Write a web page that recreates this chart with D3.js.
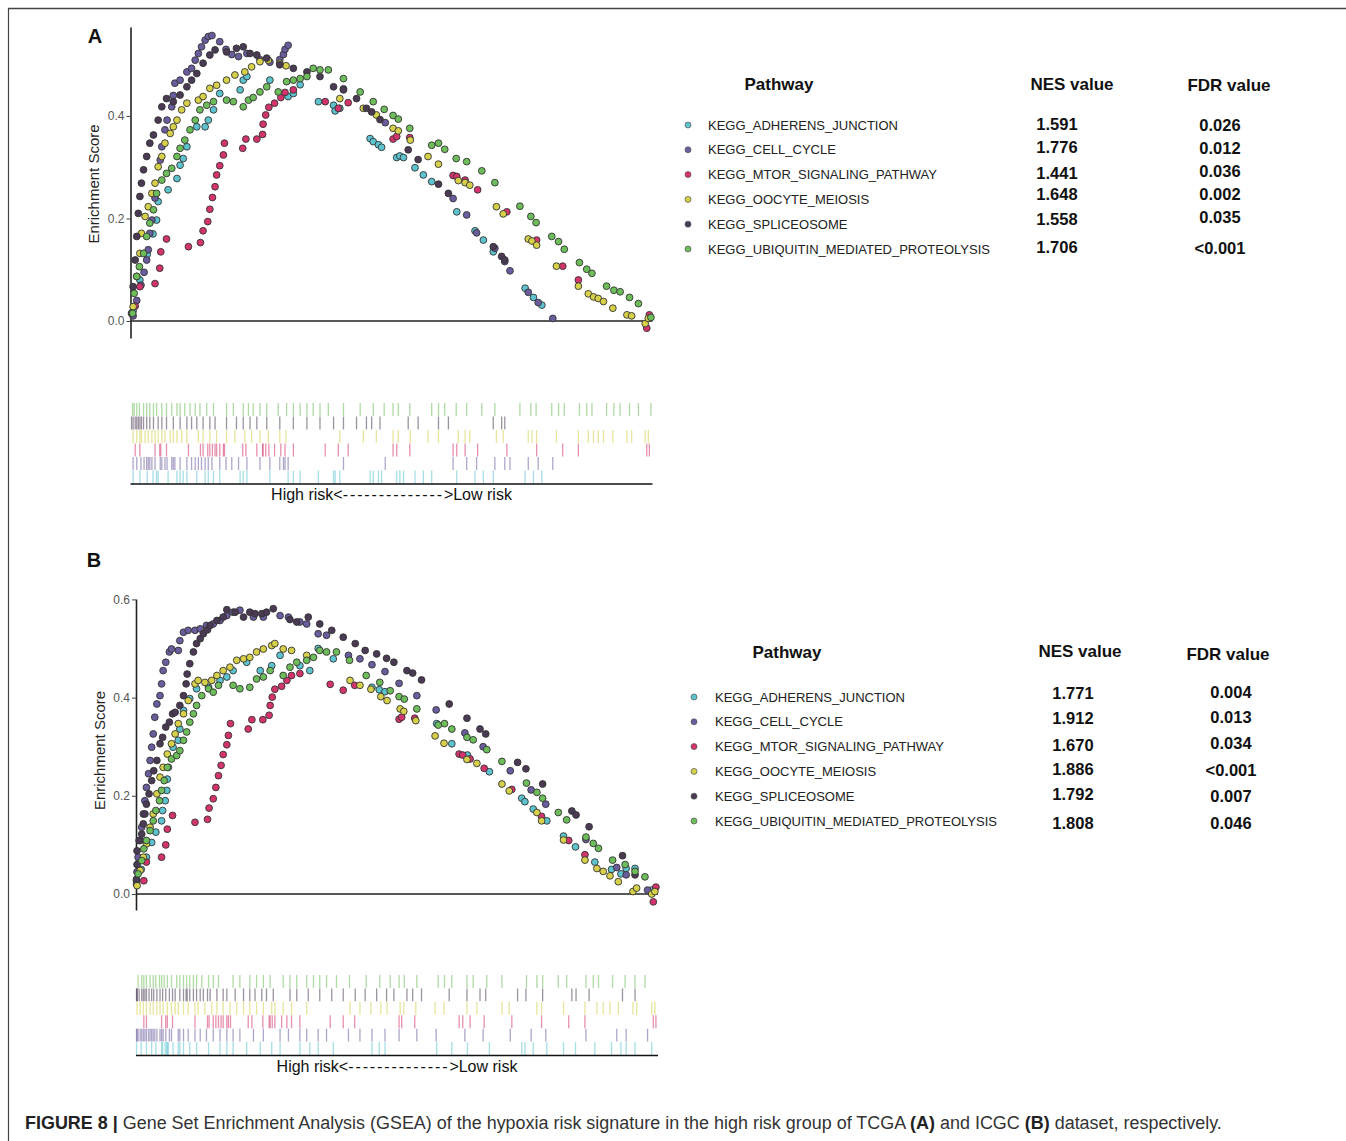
<!DOCTYPE html>
<html><head><meta charset="utf-8">
<script src="https://cdn.jsdelivr.net/npm/d3@7"></script>
<style>body{margin:0;background:#fff}svg{display:block}</style>
</head><body>
<svg id="c" width="1346" height="1141"></svg>
<script>
// ---------------- DATA ----------------
const pathways = ["KEGG_ADHERENS_JUNCTION","KEGG_CELL_CYCLE","KEGG_MTOR_SIGNALING_PATHWAY","KEGG_OOCYTE_MEIOSIS","KEGG_SPLICEOSOME","KEGG_UBIQUITIN_MEDIATED_PROTEOLYSIS"];
const tableHeaders = ["Pathway","NES value","FDR value"];
const tcgaNES = ["1.591","1.776","1.441","1.648","1.558","1.706"];
const tcgaFDR = ["0.026","0.012","0.036","0.002","0.035","<0.001"];
const icgcNES = ["1.771","1.912","1.670","1.886","1.792","1.808"];
const icgcFDR = ["0.004","0.013","0.034","<0.001","0.007","0.046"];
const esTicksA = [0, 0.2, 0.4];
const esTicksB = [0, 0.2, 0.4, 0.6];

// TCGA (panel A): hit rank position (% of ranked list) and running enrichment score
const tcgaAdhRank = [0.5,1.8,3.2,4.3,5.0,5.3,7.2,8.9,9.5,10.1,10.8,12.7,14.3,14.9,15.9,17.1,21.0,21.6,22.3,26.7,30.2,31.2,32.5,36.0,38.9,39.2,40.1,45.9,46.5,47.5,48.1,51.0,51.6,52.3,54.5,56.1,57.7,62.5,66.0,67.6,69.5,75.6,77.2,78.8];
const tcgaAdhES   = [0.02,0.08,0.13,0.17,0.197,0.233,0.256,0.278,0.304,0.317,0.34,0.379,0.379,0.392,0.412,0.444,0.451,0.47,0.477,0.47,0.438,0.444,0.461,0.428,0.421,0.41,0.415,0.356,0.35,0.344,0.339,0.319,0.322,0.319,0.299,0.285,0.272,0.213,0.176,0.158,0.135,0.064,0.046,0.031];
const tcgaCellRank = [0.5,1.2,2.0,2.6,3.1,3.4,3.7,4.1,4.7,5.7,6.0,6.6,7.0,7.9,8.2,8.5,9.5,10.8,11.7,12.4,13.0,13.6,14.3,14.9,15.6,17.1,18.3,19.4,20.7,22.3,24.8,26.7,28.6,29.3,29.6,30.2,40.8,48.8,61.8,64.4,66.3,69.8,71.7,72.7,76.2,78.1,80.9];
const tcgaCellES   = [0.01,0.04,0.07,0.095,0.119,0.139,0.171,0.197,0.24,0.314,0.34,0.373,0.392,0.418,0.44,0.464,0.47,0.486,0.493,0.509,0.522,0.535,0.548,0.555,0.557,0.545,0.53,0.52,0.516,0.522,0.51,0.505,0.51,0.52,0.53,0.538,0.453,0.387,0.239,0.207,0.172,0.142,0.116,0.098,0.056,0.036,0.005];
const tcgaMtorRank = [0.9,1.8,4.7,5.6,5.8,6.9,11.1,13.4,13.9,14.8,15.2,15.7,16.2,16.5,17.1,17.8,18.0,21.5,22.1,24.2,25.3,25.4,25.9,26.5,27.6,28.8,29.6,31.2,37.3,39.8,41.7,50.3,51.0,53.5,61.8,62.5,64.1,66.5,72.1,77.8,82.8,85.8,98.9,99.4];
const tcgaMtorES   = [0.029,0.067,0.073,0.103,0.135,0.16,0.145,0.153,0.176,0.194,0.218,0.241,0.262,0.285,0.303,0.324,0.347,0.337,0.355,0.355,0.364,0.384,0.402,0.417,0.425,0.436,0.446,0.451,0.428,0.415,0.426,0.355,0.36,0.358,0.284,0.282,0.275,0.256,0.213,0.158,0.107,0.08,-0.014,0.012];
const tcgaOocRank = [0.5,1.2,1.8,2.1,2.8,3.4,4.1,4.7,5.3,6.0,6.6,7.6,8.2,8.9,9.8,10.8,13.0,13.9,15.2,16.5,18.4,20.0,21.9,23.2,24.8,26.4,28.6,29.8,40.1,44.6,47.1,50.3,51.3,53.6,57.0,59.0,62.8,64.1,65.0,70.1,71.4,76.2,76.9,77.8,81.6,85.8,87.7,88.7,89.6,90.6,92.4,95.1,96.0,98.6,99.2];
const tcgaOocES   = [0.028,0.087,0.132,0.171,0.204,0.223,0.249,0.269,0.301,0.321,0.347,0.366,0.379,0.392,0.412,0.425,0.431,0.438,0.454,0.46,0.47,0.48,0.486,0.496,0.506,0.509,0.503,0.498,0.434,0.415,0.402,0.376,0.371,0.353,0.321,0.306,0.274,0.27,0.265,0.223,0.209,0.16,0.156,0.148,0.107,0.068,0.053,0.047,0.044,0.038,0.025,0.012,0.01,-0.005,0.005];
const tcgaSplRank = [0.2,0.5,0.9,1.2,1.5,1.8,2.1,2.5,3.1,3.7,4.4,5.3,6.0,6.9,8.2,9.5,10.8,11.7,12.7,13.9,15.2,16.2,18.4,20.3,21.6,22.9,24.2,26.1,28.6,31.2,33.8,36.3,38.9,40.8,43.3,45.2,46.2,47.8,53.2,55.1,59.0,60.9,69.5,71.1,71.7];
const tcgaSplES   = [0.015,0.067,0.119,0.165,0.21,0.243,0.269,0.295,0.321,0.347,0.363,0.392,0.418,0.434,0.428,0.441,0.457,0.47,0.483,0.503,0.519,0.529,0.525,0.532,0.535,0.522,0.519,0.513,0.5,0.493,0.486,0.477,0.457,0.451,0.434,0.415,0.408,0.393,0.334,0.315,0.267,0.249,0.145,0.126,0.119];
const tcgaUbqRank = [0.4,0.7,1.2,1.7,2.5,3.1,3.7,4.4,5.0,6.0,6.9,7.9,8.9,9.5,10.4,11.4,12.4,13.3,14.6,15.9,18.4,19.7,21.6,22.6,23.5,24.8,26.1,28.3,29.9,31.2,32.5,33.8,35.0,36.3,37.9,40.8,44.0,46.5,48.6,50.3,51.3,53.5,57.7,59.0,60.2,62.4,64.4,67.3,69.8,74.6,76.7,77.7,80.7,82.0,83.1,86.0,87.4,88.4,91.2,92.6,93.8,95.6,97.3,99.7];
const tcgaUbqES   = [0.015,0.054,0.087,0.106,0.132,0.165,0.191,0.217,0.249,0.275,0.288,0.298,0.321,0.337,0.353,0.373,0.392,0.412,0.421,0.428,0.431,0.428,0.418,0.431,0.436,0.447,0.457,0.447,0.467,0.47,0.473,0.477,0.493,0.49,0.49,0.473,0.447,0.428,0.413,0.401,0.394,0.376,0.343,0.347,0.335,0.317,0.311,0.293,0.27,0.224,0.204,0.192,0.165,0.155,0.14,0.114,0.101,0.093,0.068,0.06,0.057,0.046,0.034,0.007];

// ICGC (panel B)
const icgcAdhRank = [0.1,1.0,2.0,3.0,3.8,4.9,5.1,5.6,5.9,6.0,6.2,7.1,8.1,8.4,9.1,10.3,11.6,13.9,16.1,17.4,18.6,21.2,23.8,26.0,27.6,31.4,33.3,34.9,37.8,45.2,46.6,47.7,57.6,60.5,63.5,67.7,73.9,74.5,76.1,78.7,81.9,84.2,87.9,91.1,92.9,93.9,95.6,98.8];
const icgcAdhES   = [0.027,0.05,0.075,0.105,0.126,0.149,0.17,0.19,0.211,0.234,0.258,0.299,0.313,0.336,0.374,0.398,0.418,0.421,0.435,0.442,0.455,0.472,0.455,0.465,0.486,0.465,0.455,0.5,0.479,0.421,0.416,0.412,0.347,0.306,0.283,0.249,0.195,0.188,0.173,0.149,0.118,0.096,0.065,0.05,0.041,0.052,0.052,0.008];
const icgcCellRank = [0.1,0.2,0.4,0.8,1.1,1.4,1.7,2.0,2.4,2.7,3.0,3.3,3.6,4.0,4.6,4.9,5.2,5.7,6.4,6.8,8.1,8.4,9.1,10.0,11.3,12.3,13.5,14.8,16.1,17.4,18.6,19.9,22.5,24.4,27.6,29.2,31.4,32.7,34.9,36.5,40.7,42.9,45.2,47.7,50.4,53.8,57.5,63.0,66.5,71.7,75.7,78.5,86.2,92.1,93.9,98.0];
const icgcCellES   = [0.02,0.045,0.075,0.109,0.136,0.163,0.19,0.217,0.245,0.272,0.299,0.326,0.36,0.387,0.404,0.428,0.455,0.472,0.493,0.499,0.496,0.516,0.533,0.537,0.537,0.54,0.547,0.55,0.557,0.567,0.574,0.578,0.564,0.564,0.567,0.564,0.554,0.55,0.53,0.527,0.486,0.479,0.467,0.453,0.429,0.404,0.375,0.328,0.3,0.251,0.212,0.183,0.111,0.054,0.039,0.008];
const icgcMtorRank = [1.5,2.0,4.9,5.7,6.0,7.0,11.3,13.7,14.0,14.8,15.3,15.8,16.3,16.7,17.4,17.7,18.1,21.5,22.2,24.3,25.5,25.7,26.1,26.6,27.9,28.9,29.8,31.4,37.2,39.7,41.9,50.4,50.9,53.4,61.9,62.6,64.0,66.7,72.0,77.7,82.9,86.0,99.1,99.6];
const icgcMtorES   = [0.027,0.065,0.075,0.1,0.132,0.16,0.146,0.152,0.175,0.194,0.217,0.241,0.262,0.284,0.304,0.323,0.347,0.336,0.355,0.355,0.364,0.384,0.401,0.417,0.423,0.435,0.445,0.449,0.427,0.415,0.425,0.356,0.36,0.358,0.285,0.283,0.275,0.256,0.213,0.158,0.109,0.08,-0.016,0.014];
const icgcOocRank = [0.2,0.8,1.4,2.0,2.7,3.3,4.0,4.6,5.2,6.0,6.8,7.5,8.1,9.1,10.0,11.3,11.9,13.2,14.5,15.5,16.7,18.0,19.3,20.6,21.8,23.1,24.4,26.0,26.6,28.2,29.8,32.7,41.0,42.9,45.0,46.9,48.1,50.6,51.3,53.6,57.3,59.0,63.4,65.3,70.1,71.5,76.8,77.7,81.9,86.0,88.3,89.5,90.8,92.4,95.2,95.9,98.8,99.4];
const icgcOocES   = [0.017,0.048,0.075,0.102,0.136,0.163,0.204,0.238,0.258,0.285,0.306,0.326,0.347,0.367,0.394,0.428,0.435,0.431,0.435,0.445,0.455,0.462,0.476,0.479,0.482,0.493,0.499,0.506,0.51,0.499,0.496,0.486,0.435,0.425,0.417,0.402,0.394,0.377,0.372,0.353,0.322,0.307,0.274,0.266,0.224,0.21,0.166,0.149,0.11,0.069,0.052,0.046,0.037,0.025,0.005,0.012,0,0.005];
const icgcSplRank = [0.1,0.2,0.2,0.6,1.1,1.4,1.7,2.0,2.5,3.0,3.4,4.0,4.6,5.1,5.7,6.4,7.0,7.5,8.4,9.1,9.6,9.8,10.3,11.0,11.6,12.3,12.9,13.7,14.2,15.5,16.7,17.4,19.0,20.6,21.8,22.8,24.1,25.0,26.3,29.5,30.8,33.0,35.2,37.5,39.7,42.0,43.9,46.1,48.0,49.4,51.9,53.0,54.7,60.0,63.4,65.9,67.0,73.1,74.7,77.9,83.5,84.3,86.8,93.2,95.6];
const icgcSplES   = [0.03,0.06,0.088,0.109,0.122,0.143,0.163,0.183,0.204,0.231,0.251,0.272,0.306,0.319,0.34,0.35,0.367,0.37,0.384,0.404,0.428,0.448,0.469,0.493,0.51,0.52,0.53,0.538,0.547,0.557,0.564,0.579,0.574,0.564,0.574,0.571,0.571,0.574,0.581,0.559,0.554,0.564,0.55,0.537,0.523,0.51,0.496,0.489,0.48,0.472,0.455,0.45,0.436,0.387,0.358,0.336,0.326,0.268,0.255,0.224,0.169,0.161,0.137,0.078,0.039];
const icgcUbqRank = [0.4,1.1,1.5,2.0,2.7,3.3,3.8,4.5,4.9,5.4,6.0,6.8,7.8,8.4,9.1,9.7,10.3,11.0,11.6,12.6,13.9,14.8,15.8,18.6,19.9,21.8,23.1,24.4,25.7,28.2,29.5,30.8,32.7,34.0,35.2,36.5,38.4,40.9,44.1,46.7,48.7,50.4,51.4,53.8,57.9,59.1,60.5,63.4,64.6,67.2,70.1,74.8,76.8,77.9,80.9,82.5,86.2,87.6,88.6,91.3,93.7,95.6,97.5];
const icgcUbqES   = [0.041,0.068,0.092,0.109,0.129,0.149,0.17,0.19,0.211,0.231,0.258,0.275,0.282,0.292,0.313,0.33,0.35,0.367,0.384,0.404,0.418,0.411,0.425,0.425,0.418,0.421,0.438,0.442,0.455,0.445,0.462,0.472,0.476,0.482,0.496,0.493,0.493,0.476,0.445,0.431,0.414,0.402,0.397,0.377,0.344,0.347,0.336,0.319,0.314,0.294,0.27,0.226,0.207,0.195,0.166,0.151,0.116,0.103,0.093,0.069,0.06,0.046,0.035];

// ---------------- STYLE / LAYOUT ----------------
const colors = ["#5cc3cf","#6b5c9e","#d4346d","#d6d04a","#4a3a54","#6dbd5a"];
const rugOrder = [5,4,3,2,1,0]; // top to bottom

const panels = [
  { letter:"A", lx:95, ly:43,
    ranks:[tcgaAdhRank,tcgaCellRank,tcgaMtorRank,tcgaOocRank,tcgaSplRank,tcgaUbqRank],
    es:[tcgaAdhES,tcgaCellES,tcgaMtorES,tcgaOocES,tcgaSplES,tcgaUbqES],
    ticks:esTicksA, x0:130.5, x1:652.5, zeroY:321, unitY:512.5, yTop:27, yBot:338,
    rugTop:403, rugBot:483.5, baseY:484, riskY:500, labelX:93,
    nes:tcgaNES, fdr:tcgaFDR,
    tab:{dotX:688, textX:708, rowY:125, step:24.8, nesX:1057, fdrX:1220,
         hdr:[[779,84],[1072,84],[1229,85]],
         nesNudge:[-1,-3,-2,-5,-5,-2], fdrNudge:[0,-2,-4,-5,-7,-1]} },
  { letter:"B", lx:94, ly:567,
    ranks:[icgcAdhRank,icgcCellRank,icgcMtorRank,icgcOocRank,icgcSplRank,icgcUbqRank],
    es:[icgcAdhES,icgcCellES,icgcMtorES,icgcOocES,icgcSplES,icgcUbqES],
    ticks:esTicksB, x0:136, x1:658, zeroY:894, unitY:491, yTop:599, yBot:910,
    rugTop:975, rugBot:1055, baseY:1055.5, riskY:1072, labelX:99,
    nes:icgcNES, fdr:icgcFDR,
    tab:{dotX:694, textX:715, rowY:697, step:24.8, nesX:1073, fdrX:1231,
         hdr:[[787,652],[1080,651],[1228,654]],
         nesNudge:[-4,-4,-2,-2,-2,2], fdrNudge:[-5,-5,-4,-1,0,2]} }
];

const svg = d3.select("#c");
const FONT = "'Liberation Sans', Arial, Helvetica, sans-serif";

// frame
svg.append("line").attr("x1",8).attr("x2",1346).attr("y1",8.5).attr("y2",8.5).attr("stroke","#444").attr("stroke-width",1.6);
svg.append("line").attr("x1",8.5).attr("x2",8.5).attr("y1",8).attr("y2",1141).attr("stroke","#444").attr("stroke-width",1.2);

panels.forEach(p => {
  const g = svg.append("g");
  const x = d3.scaleLinear().domain([0,100]).range([p.x0, p.x1]);
  const y = d3.scaleLinear()
    .domain([(p.zeroY - p.yBot)/p.unitY, (p.zeroY - p.yTop)/p.unitY])
    .range([p.yBot, p.yTop]);

  // panel letter
  g.append("text").attr("x",p.lx).attr("y",p.ly).attr("text-anchor","middle")
    .attr("font-family",FONT).attr("font-weight","bold").attr("font-size",20).attr("fill","#111").text(p.letter);

  // y axis
  const ax = g.append("g").attr("transform",`translate(${p.x0},0)`)
    .call(d3.axisLeft(y).tickValues(p.ticks).tickFormat(d3.format(".1f")).tickSize(4).tickSizeOuter(0).tickPadding(2));
  ax.select(".domain").attr("stroke","#222").attr("stroke-width",1.6);
  ax.selectAll(".tick line").attr("stroke","#444");
  ax.selectAll(".tick text").attr("font-family",FONT).attr("font-size",12).attr("fill","#555");

  // zero line
  g.append("line").attr("x1",x(0)).attr("x2",x(100)).attr("y1",y(0)).attr("y2",y(0))
    .attr("stroke","#222").attr("stroke-width",1.6);

  // y label
  g.append("text").attr("transform",`translate(${p.labelX},${(y(0)+p.yTop)/2 + (p.letter==="A"?10:4)}) rotate(-90)`)
    .attr("text-anchor","middle").attr("dominant-baseline","central")
    .attr("font-family",FONT).attr("font-size",15).attr("fill","#222").text("Enrichment Score");

  // points
  p.ranks.forEach((rk, si) => {
    const pts = rk.map((r,i) => [r, p.es[si][i]]);
    g.append("g").selectAll("circle").data(pts).join("circle")
      .attr("cx", d => x(d[0])).attr("cy", d => y(d[1])).attr("r",3.4)
      .attr("fill", colors[si]).attr("stroke","#333").attr("stroke-width",0.9);
  });

  // rug
  const band = d3.scaleBand().domain(rugOrder).range([p.rugTop, p.rugBot]).paddingInner(0.04);
  rugOrder.forEach(si => {
    g.append("g").selectAll("line").data(p.ranks[si]).join("line")
      .attr("x1", d => x(d)).attr("x2", d => x(d))
      .attr("y1", band(si)).attr("y2", band(si)+band.bandwidth())
      .attr("stroke", colors[si]).attr("stroke-width",1.3).attr("stroke-opacity",0.55);
  });
  g.append("line").attr("x1",x(0)).attr("x2",x(100)).attr("y1",p.baseY).attr("y2",p.baseY)
    .attr("stroke","#111").attr("stroke-width",1.6);
  const rt = g.append("text").attr("x",(x(0)+x(100))/2).attr("y",p.riskY).attr("text-anchor","middle")
    .attr("font-family",FONT).attr("font-size",16).attr("fill","#111");
  rt.append("tspan").text("High risk<");
  rt.append("tspan").attr("letter-spacing",1.9).text("--------------");
  rt.append("tspan").text(">Low risk");

  // table
  const t = p.tab;
  tableHeaders.forEach((h,i) => {
    g.append("text").attr("x",t.hdr[i][0]).attr("y",t.hdr[i][1]).attr("text-anchor","middle")
      .attr("dominant-baseline","central").attr("font-family",FONT).attr("font-weight","bold")
      .attr("font-size",17).attr("fill","#111").text(h);
  });
  pathways.forEach((name,i) => {
    const cy = t.rowY + i*t.step;
    g.append("circle").attr("cx",t.dotX).attr("cy",cy).attr("r",3)
      .attr("fill",colors[i]).attr("stroke","#555").attr("stroke-width",0.7);
    g.append("text").attr("x",t.textX).attr("y",cy).attr("dominant-baseline","central")
      .attr("font-family",FONT).attr("font-size",13).attr("fill","#222").text(name);
    g.append("text").attr("x",t.nesX).attr("y",cy + t.nesNudge[i]).attr("text-anchor","middle")
      .attr("dominant-baseline","central").attr("font-family",FONT).attr("font-weight","bold")
      .attr("font-size",16.5).attr("fill","#111").text(p.nes[i]);
    g.append("text").attr("x",t.fdrX).attr("y",cy + t.fdrNudge[i]).attr("text-anchor","middle")
      .attr("dominant-baseline","central").attr("font-family",FONT).attr("font-weight","bold")
      .attr("font-size",16.5).attr("fill","#111").text(p.fdr[i]);
  });
});

// caption
const cap = svg.append("text").attr("x",25).attr("y",1129)
  .attr("font-family",FONT).attr("font-size",18).attr("fill","#333");
const parts = [["FIGURE 8 | ",true],["Gene Set Enrichment Analysis (GSEA) of the hypoxia risk signature in the high risk group of TCGA ",false],["(A)",true],[" and ICGC ",false],["(B)",true],[" dataset, respectively.",false]];
parts.forEach(([s,b]) => cap.append("tspan").attr("font-weight",b?"bold":"normal").attr("fill", b?"#222":"#333").text(s));
const w = cap.node().getComputedTextLength();
const sx = (1222-25)/w;
cap.attr("transform",`translate(25,0) scale(${sx},1) translate(-25,0)`);
</script>
</body></html>
